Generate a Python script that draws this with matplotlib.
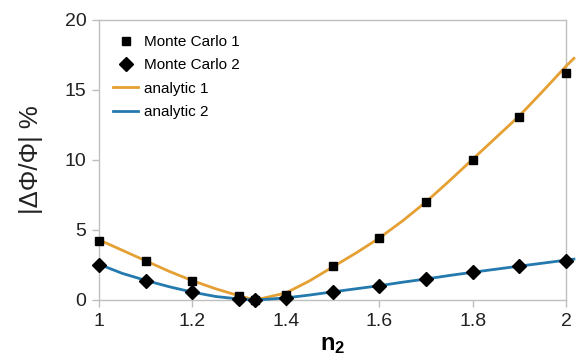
import matplotlib
matplotlib.use("Agg")
import matplotlib.pyplot as plt

plt.rcParams['font.family'] = ['Liberation Sans', 'DejaVu Sans']
plt.rcParams['mathtext.fontset'] = 'custom'
plt.rcParams['mathtext.rm'] = 'Liberation Sans'
plt.rcParams['mathtext.bf'] = 'Liberation Sans:bold'

# Monte Carlo results
mc_n2 = [1.0, 1.1, 1.2, 1.3, 1.333, 1.4, 1.5, 1.6, 1.7, 1.8, 1.9, 2.0]
mc1 = [4.2, 2.78, 1.38, 0.3, 0.03, 0.38, 2.42, 4.4, 7.02, 10.0, 13.05, 16.25]
mc2 = [2.5, 1.38, 0.57, 0.07, 0.0, 0.12, 0.57, 0.99, 1.5, 1.98, 2.4, 2.78]

# Analytic curves
an_n2 = [1.0, 1.05, 1.1, 1.15, 1.2, 1.25, 1.3, 1.333, 1.35, 1.4, 1.45, 1.5,
         1.55, 1.6, 1.65, 1.7, 1.75, 1.8, 1.85, 1.9, 1.95, 2.0, 2.017]
an1 = [4.3, 3.55, 2.8, 2.05, 1.38, 0.8, 0.3, 0.0, 0.12, 0.5, 1.35, 2.35,
       3.35, 4.42, 5.65, 7.0, 8.5, 10.05, 11.6, 13.15, 14.9, 16.7, 17.26]
an2 = [2.55, 1.9, 1.4, 0.95, 0.56, 0.25, 0.07, 0.0, 0.03, 0.15, 0.35, 0.58,
       0.8, 1.02, 1.27, 1.5, 1.75, 1.98, 2.2, 2.42, 2.63, 2.85, 2.92]

xticks = [1, 1.2, 1.4, 1.6, 1.8, 2]
xticklabels = ['1', '1.2', '1.4', '1.6', '1.8', '2']
yticks = [0, 5, 10, 15, 20]

orange = '#E4A033'
blue = '#2479AE'
frame = '#BFBFBF'

fig = plt.figure(figsize=(5.77, 3.62), dpi=100)
ax = fig.add_axes([99 / 577, 62 / 362, 467 / 577, 280 / 362])

ax.plot(mc_n2, mc1, linestyle='none', marker='s', ms=6.2, color='black',
        label='Monte Carlo 1', clip_on=False, zorder=4)
ax.plot(mc_n2, mc2, linestyle='none', marker='D', ms=6.8, color='black',
        label='Monte Carlo 2', clip_on=False, zorder=4)
ax.plot(an_n2, an1, color=orange, lw=2.0, label='analytic 1', clip_on=False, zorder=3)
ax.plot(an_n2, an2, color=blue, lw=2.0, label='analytic 2', clip_on=False, zorder=3)

ax.set_xlim(1, 2)
ax.set_ylim(0, 20)
ax.set_xticks(xticks)
ax.set_xticklabels(xticklabels)
ax.set_yticks(yticks)

for s in ax.spines.values():
    s.set_color(frame)
    s.set_linewidth(1.0)

ax.tick_params(axis='both', direction='out', length=5, width=1, color=frame,
               labelsize=14, labelcolor='#222222')
ax.tick_params(axis='x', pad=4)
ax.tick_params(axis='y', pad=4)

ax.set_xlabel(r'$\mathbf{n_2}$', fontsize=17, labelpad=3)
ax.set_ylabel('|ΔΦ/Φ| %', fontsize=18.5, labelpad=16, color='#222222')

ax.legend(loc='upper left', bbox_to_anchor=(0.008, 0.985), frameon=False,
          fontsize=11, handlelength=1.6, handletextpad=0.4,
          labelspacing=0.62, borderaxespad=0.3)

fig.savefig('out.png', dpi=100)
